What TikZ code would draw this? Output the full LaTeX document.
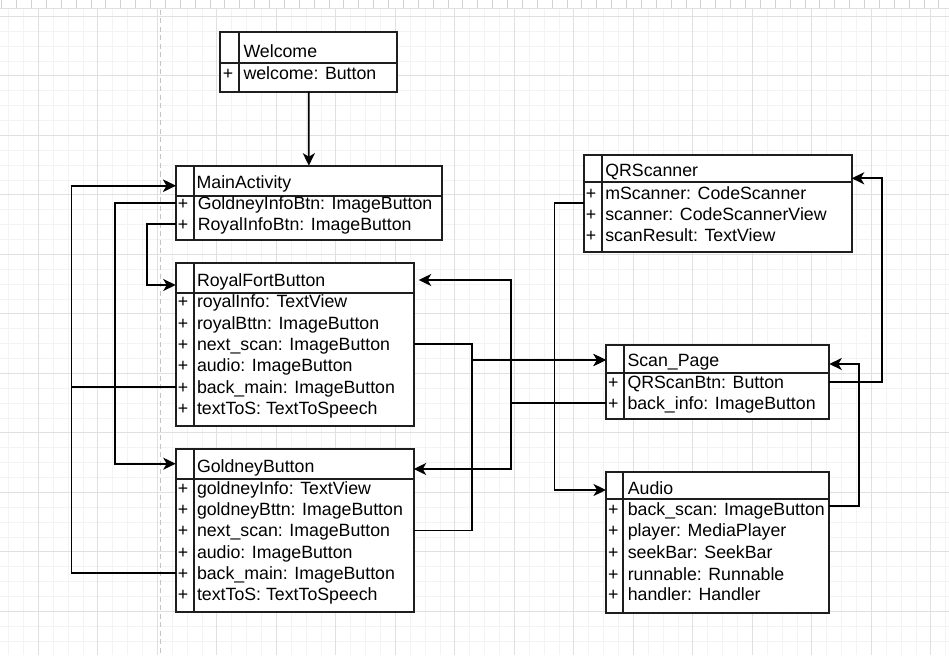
\documentclass[tikz,border=0pt]{standalone}
\usepackage{fontspec}
\setmainfont{Liberation Sans}
\usetikzlibrary{arrows.meta}
\definecolor{gridmajor}{HTML}{E0E0E0}
\definecolor{gridminor}{HTML}{F3F3F3}
\definecolor{boxline}{HTML}{1E1E1E}
\definecolor{pageline}{HTML}{C4C4C4}
\definecolor{ticks}{HTML}{D0D0D0}
\begin{document}
\begin{tikzpicture}[x=1pt,y=-1pt,
  cbox/.style={rectangle, draw=boxline, line width=1.8pt, fill=white, inner sep=0pt, outer sep=0pt, anchor=north west},
  cline/.style={draw=boxline, line width=1.8pt},
  ctext/.style={inner sep=0pt, outer sep=0pt, text height=12.7pt, text depth=0pt, anchor=west, font=\fontsize{17.75}{20}\selectfont},
  cplus/.style={inner sep=0pt, outer sep=0pt, text height=12.7pt, text depth=0pt, font=\fontsize{17.75}{20}\selectfont},
  conn/.style={draw=black, line width=1.8pt, -{Stealth[length=12.5pt,width=12pt,inset=3.5pt]}},
  minorg/.style={draw=gridminor, line width=0.8pt},
  majorg/.style={draw=gridmajor, line width=0.9pt}]
\useasboundingbox (0,0) rectangle (949,655);
\fill[white] (0,0) rectangle (949,655);
% grid
\foreach \i in {-2,...,61} { \draw[minorg] ({38.3+14.875*\i},8.3) -- ({38.3+14.875*\i},655); }
\foreach \j in {0,...,42} { \draw[minorg] (0,{16.3+14.875*\j}) -- (949,{16.3+14.875*\j}); }
\foreach \i in {0,...,15} { \draw[majorg] ({38.3+59.5*\i},8.3) -- ({38.3+59.5*\i},655); }
\foreach \j in {0,...,10} { \draw[majorg] (0,{16.3+59.5*\j}) -- (949,{16.3+59.5*\j}); }
% ruler
\foreach \i in {0,...,63} { \draw[ticks, line width=0.8pt] ({1.7+14.875*\i},0) -- ({1.7+14.875*\i},8.3); }
\draw[majorg] (0,8.3) -- (949,8.3);
% page boundary
\draw[pageline, line width=1.3pt, dash pattern=on 5pt off 3.5pt] (160.8,10) -- (160.8,655);

% ---------- Welcome
\node[cbox, minimum width=177pt, minimum height=59.4pt] (W) at (220.3,32.3) {};
\draw[cline] (W.west |- 0,63.3) -- (W.east |- 0,63.3);
\draw[cline] (239.3,32.3) -- (239.3,91.7);
\node[ctext] (W0) at (243.5,51.35) {Welcome};
\node[cplus] (Wp1) at (228,73.65) {+};
\node[ctext] (W1) at (243.5,73.65) {welcome: Button};

% ---------- MainActivity
\node[cbox, minimum width=266.3pt, minimum height=74.6pt] (M) at (175.7,165.7) {};
\draw[cline] (M.west |- 0,196) -- (M.east |- 0,196);
\draw[cline] (193.7,165.7) -- (193.7,240.3);
\node[ctext] (M0) at (196.6,181.95) {MainActivity};
\node[cplus] (Mp1) at (183,202.65) {+};
\node[ctext] (M1) at (197.8,202.65) {GoldneyInfoBtn: ImageButton};
\node[cplus] (Mp2) at (183,223.65) {+};
\node[ctext] (M2) at (197.8,223.65) {RoyalInfoBtn: ImageButton};

% ---------- RoyalFortButton
\node[cbox, minimum width=238pt, minimum height=163pt] (RF) at (175.7,263.3) {};
\draw[cline] (RF.west |- 0,292.7) -- (RF.east |- 0,292.7);
\draw[cline] (193.7,263.3) -- (193.7,426.3);
\node[ctext] (RF0) at (197,279.65) {RoyalFortButton};
\node[cplus] (RFp1) at (183,301.35) {+};
\node[ctext] (RF1) at (197,301.35) {royalInfo: TextView};
\node[cplus] (RFp2) at (183,322.75) {+};
\node[ctext] (RF2) at (197,322.75) {royalBttn: ImageButton};
\node[cplus] (RFp3) at (183,344.15) {+};
\node[ctext] (RF3) at (197,344.15) {next\_scan: ImageButton};
\node[cplus] (RFp4) at (183,365.55) {+};
\node[ctext] (RF4) at (197,365.55) {audio: ImageButton};
\node[cplus] (RFp5) at (183,386.95) {+};
\node[ctext] (RF5) at (197,386.95) {back\_main: ImageButton};
\node[cplus] (RFp6) at (183,408.35) {+};
\node[ctext] (RF6) at (197,408.35) {textToS: TextToSpeech};

% ---------- GoldneyButton
\node[cbox, minimum width=238pt, minimum height=163pt] (GB) at (175.7,449.3) {};
\draw[cline] (GB.west |- 0,479) -- (GB.east |- 0,479);
\draw[cline] (193.7,449.3) -- (193.7,612.3);
\node[ctext] (GB0) at (197,466.35) {GoldneyButton};
\node[cplus] (GBp1) at (183,487.95) {+};
\node[ctext] (GB1) at (197,487.95) {goldneyInfo: TextView};
\node[cplus] (GBp2) at (183,509.25) {+};
\node[ctext] (GB2) at (197,509.25) {goldneyBttn: ImageButton};
\node[cplus] (GBp3) at (183,530.55) {+};
\node[ctext] (GB3) at (197,530.55) {next\_scan: ImageButton};
\node[cplus] (GBp4) at (183,551.85) {+};
\node[ctext] (GB4) at (197,551.85) {audio: ImageButton};
\node[cplus] (GBp5) at (183,573.15) {+};
\node[ctext] (GB5) at (197,573.15) {back\_main: ImageButton};
\node[cplus] (GBp6) at (183,594.45) {+};
\node[ctext] (GB6) at (197,594.45) {textToS: TextToSpeech};

% ---------- QRScanner
\node[cbox, minimum width=267.7pt, minimum height=97pt] (QR) at (584,155) {};
\draw[cline] (QR.west |- 0,182.3) -- (QR.east |- 0,182.3);
\draw[cline] (602.3,155) -- (602.3,252);
\node[ctext] (QR0) at (605.3,170.35) {QRScanner};
\node[cplus] (QRp1) at (591,192.65) {+};
\node[ctext] (QR1) at (605.3,192.65) {mScanner: CodeScanner};
\node[cplus] (QRp2) at (591,213.65) {+};
\node[ctext] (QR2) at (605.3,213.65) {scanner: CodeScannerView};
\node[cplus] (QRp3) at (591,235.35) {+};
\node[ctext] (QR3) at (605.3,235.35) {scanResult: TextView};

% ---------- Scan_Page
\node[cbox, minimum width=223.3pt, minimum height=74.3pt] (SP) at (606,344.7) {};
\draw[cline] (SP.west |- 0,373.3) -- (SP.east |- 0,373.3);
\draw[cline] (624,344.7) -- (624,419);
\node[ctext] (SP0) at (627.5,359.65) {Scan\_Page};
\node[cplus] (SPp1) at (613.3,381.95) {+};
\node[ctext] (SP1) at (627.5,381.95) {QRScanBtn: Button};
\node[cplus] (SPp2) at (613.3,402.95) {+};
\node[ctext] (SP2) at (627.5,402.95) {back\_info: ImageButton};

% ---------- Audio
\node[cbox, minimum width=223.3pt, minimum height=141pt] (AU) at (606,471.7) {};
\draw[cline] (AU.west |- 0,499) -- (AU.east |- 0,499);
\draw[cline] (622.7,471.7) -- (622.7,612.7);
\node[ctext] (AU0) at (627.8,487.65) {Audio};
\node[cplus] (AUp1) at (613.3,508.65) {+};
\node[ctext] (AU1) at (627.8,508.65) {back\_scan: ImageButton};
\node[cplus] (AUp2) at (613.3,530.35) {+};
\node[ctext] (AU2) at (627.8,530.35) {player: MediaPlayer};
\node[cplus] (AUp3) at (613.3,551.95) {+};
\node[ctext] (AU3) at (627.8,551.95) {seekBar: SeekBar};
\node[cplus] (AUp4) at (613.3,573.65) {+};
\node[ctext] (AU4) at (627.8,573.65) {runnable: Runnable};
\node[cplus] (AUp5) at (613.3,594.35) {+};
\node[ctext] (AU5) at (627.8,594.35) {handler: Handler};

% ---------- bend points
\coordinate (k1) at (71.5,185.7);
\coordinate (k2) at (115,463.7);
\coordinate (k3) at (146.7,285);
\coordinate (k4) at (511,280);
\coordinate (k5) at (511,469);
\coordinate (k6) at (472.3,360);
\coordinate (k7) at (554.5,490);
\coordinate (k8) at (554.5,202.7);
\coordinate (k9) at (881.7,178.3);
\coordinate (k10) at (859,364);
\coordinate (k11) at (859,505.7);

% ---------- connectors
\draw[conn] (W.south) -- (M.north);
\draw[conn] (RF5 -| RF.west) -| (k1) -- (k1 -| M.west);
\draw[conn] (GB5 -| GB.west) -| (k1) -- (k1 -| M.west);
\draw[conn] (M1 -| M.west) -| (k2) -- (k2 -| GB.west);
\draw[conn] (M2 -| M.west) -| (k3) -- (k3 -| RF.west);
\draw[conn, shorten >=5pt] (SP2 -| SP.west) -| (k4) -- (k4 -| RF.east);
\draw[conn] (SP2 -| SP.west) -| (k5) -- (k5 -| GB.east);
\draw[conn] (RF3 -| RF.east) -| (k6) -- (k6 -| SP.west);
\draw[conn] (GB3 -| GB.east) -| (k6) -- (k6 -| SP.west);
\draw[conn] (k8 -| QR.west) -- (k8) -- (k7) -- (k7 -| AU.west);
\draw[conn] (SP1 -| SP.east) -| (k9) -- (k9 -| QR.east);
\draw[conn] (k11 -| AU.east) -- (k11) -- (k10) -- (k10 -| SP.east);
\end{tikzpicture}
\end{document}
